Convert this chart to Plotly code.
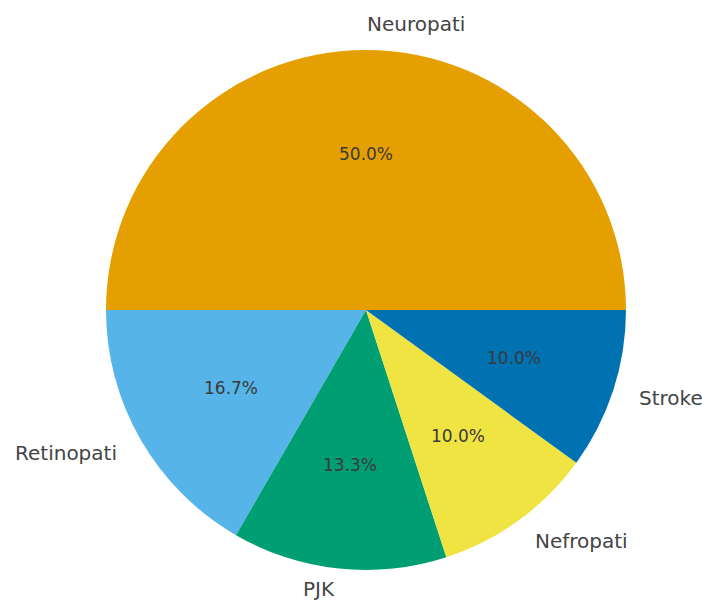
import numpy as np
import plotly.graph_objects as go

labels = ["Neuropati", "Retinopati", "PJK", "Nefropati", "Stroke"]
values = [15, 5, 4, 3, 3]
colors = ["#E69F00", "#56B4E9", "#009E73", "#F0E442", "#0072B2"]

W, H = 702, 603
cx_px, cy_px, r_px = 366, 310, 260
cx = cx_px / W
cy = 1 - cy_px / H
label_size = 20

fig = go.Figure()
fig.add_trace(go.Pie(
    labels=labels, values=values, sort=False,
    direction="counterclockwise", rotation=-90,
    marker=dict(colors=colors, line=dict(width=0)),
    textinfo="none", hoverinfo="label+percent", showlegend=False,
    domain=dict(x=[cx - r_px / W, cx + r_px / W], y=[cy - r_px / H, cy + r_px / H]),
))

total = float(sum(values))
start = 0.0
annotations = []
for lab, v in zip(labels, values):
    frac = v / total
    mid = np.deg2rad(360 * (start + frac / 2))
    start += frac
    c, s = np.cos(mid), np.sin(mid)
    ly = cy + 1.1 * r_px * s / H
    # keep the label box inside the page
    ly = max(ly, (label_size * 0.7) / H)
    annotations.append(dict(
        x=cx + 1.1 * r_px * c / W, y=ly,
        xref="paper", yref="paper", text=lab, showarrow=False,
        xanchor="left" if c > 0 else "right", yanchor="middle",
        borderpad=0,
        font=dict(family="DejaVu Sans", size=label_size, color="#444444"),
    ))
    annotations.append(dict(
        x=cx + 0.6 * r_px * c / W, y=cy + 0.6 * r_px * s / H,
        xref="paper", yref="paper", text=f"{100 * frac:.1f}%", showarrow=False,
        xanchor="center", yanchor="middle",
        font=dict(family="DejaVu Sans", size=17, color="#3a3a3a"),
    ))

fig.update_layout(
    width=W, height=H, margin=dict(l=0, r=0, t=0, b=0),
    paper_bgcolor="white", plot_bgcolor="white",
    annotations=annotations,
)
fig.write_html("out.html")
